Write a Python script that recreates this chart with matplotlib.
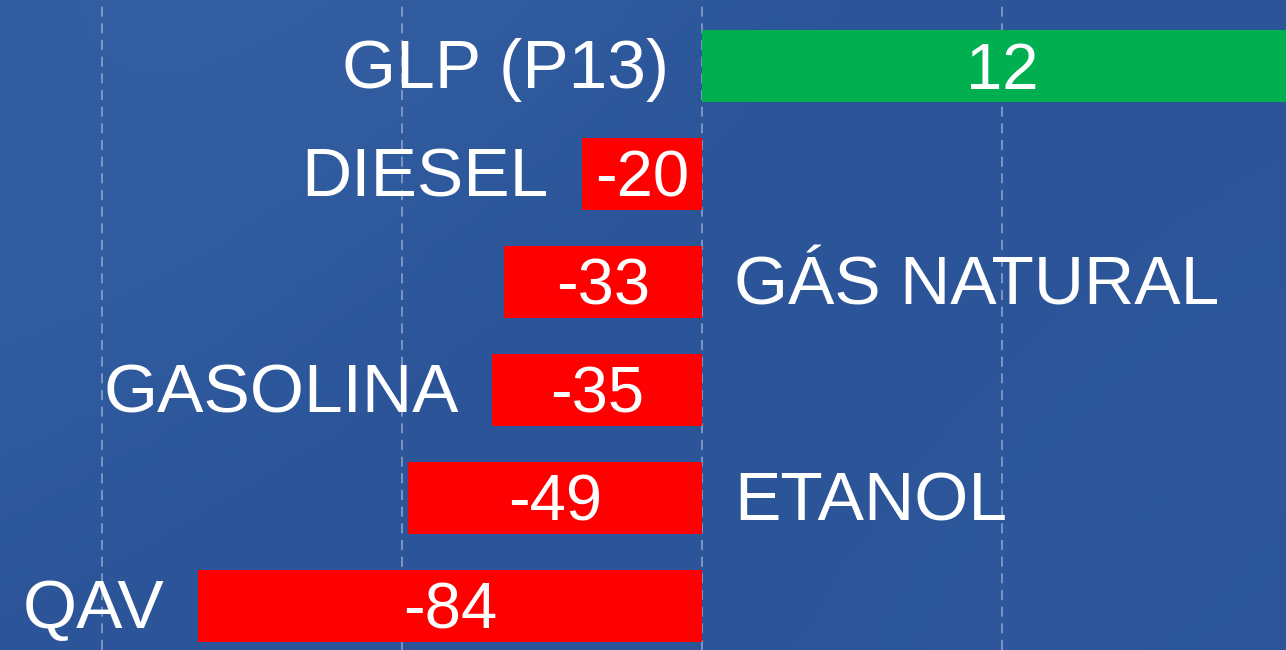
import matplotlib.pyplot as plt
import numpy as np

# variation by fuel (labels as shown on the chart)
fuels = ["GLP (P13)", "DIESEL", "GÁS NATURAL", "GASOLINA", "ETANOL", "QAV"]
values = [12, -20, -33, -35, -49, -84]
# drawn length of each bar in axis units (the GLP bar runs off the edge in the original)
bar_lengths = [100, -20, -33, -35, -49, -84]
label_side = ["left", "left", "right", "left", "right", "left"]
grid_ticks = [-100, -50, 0, 50]

plt.rcParams['font.family'] = ['Liberation Sans', 'DejaVu Sans']

fig = plt.figure(figsize=(12.86, 6.5), dpi=100)
ax = fig.add_axes([0, 0, 1, 1])

# blue background, slightly lighter towards the upper left
xx, yy = np.meshgrid(np.linspace(0, 1, 200), np.linspace(0, 1, 100))
shade = 0.5 * (1 - xx) * (1 - yy) + 0.15 * np.sin(6 * xx + 3 * yy)
c0 = np.array([0.17, 0.33, 0.60])
c1 = np.array([0.22, 0.40, 0.66])
img = c0 + (c1 - c0) * np.clip(shade, 0, 1)[..., None]
ax.imshow(img, extent=(-116.9, 97.2, 5.407, -0.611), aspect='auto', zorder=0)

y = np.arange(len(fuels))
colors = ["#00b050" if v > 0 else "#ff0000" for v in values]
ax.barh(y, bar_lengths, height=0.667, color=colors, zorder=3)

for xv in grid_ticks:
    ax.axvline(xv, color="#a9b9d4", lw=1.2, ls=(0, (6, 4)), alpha=0.75, zorder=1)

for i, (name, v, blen, side) in enumerate(zip(fuels, values, bar_lengths, label_side)):
    # value inside the bar
    ax.annotate(str(v), (blen / 2, i), xytext=(0, -4), textcoords="offset points",
                color="white", fontsize=47, ha="center", va="center", zorder=4)
    if side == "left":
        ax.annotate(name, (min(0, blen), i), xytext=(-24, -3), textcoords="offset points",
                    color="white", fontsize=50, ha="right", va="center", zorder=4)
    else:
        ax.annotate(name, (0, i), xytext=(23, -3), textcoords="offset points",
                    color="white", fontsize=50, ha="left", va="center", zorder=4)

ax.set_xlim(-116.9, 97.2)
ax.set_ylim(5.407, -0.611)
ax.axis("off")

fig.savefig("out.png", dpi=100)
